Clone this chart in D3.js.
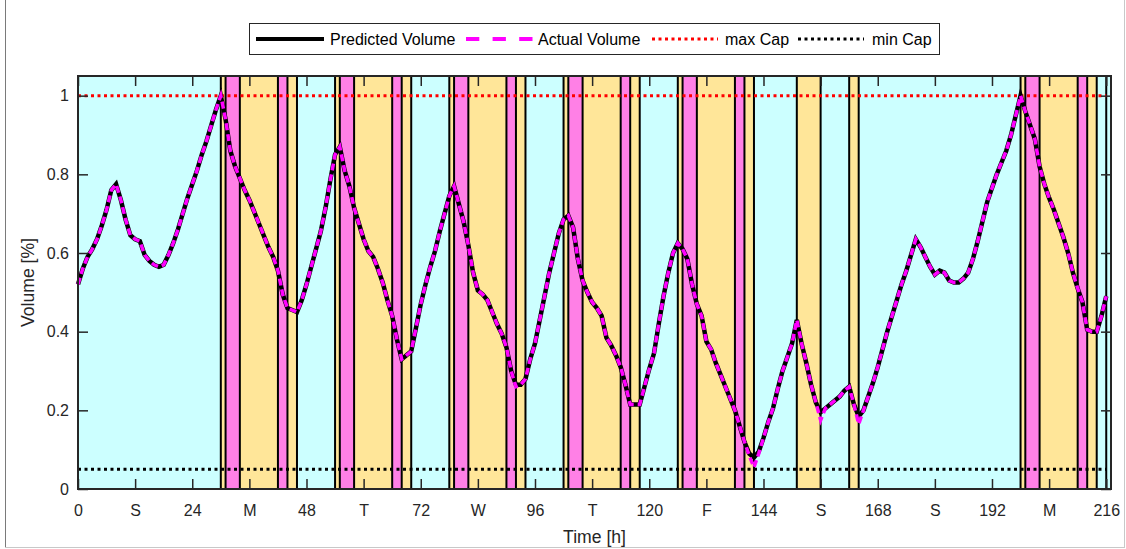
<!DOCTYPE html>
<html>
<head>
<meta charset="utf-8">
<script src="https://cdn.jsdelivr.net/npm/d3@7"></script>
<style>
  html, body { margin: 0; padding: 0; background: #ffffff; }
  svg { display: block; font-family: "Liberation Sans", Arial, Helvetica, sans-serif; }
</style>
</head>
<body>
<svg id="chart" width="1126" height="549"></svg>
<script>
// Hourly storage volume (fraction of capacity), hour 0 .. 216
const actualVolume = [
  0.52, 0.56, 0.59, 0.61, 0.635, 0.67, 0.71, 0.76, 0.775, 0.735,
  0.685, 0.645, 0.635, 0.63, 0.595, 0.58, 0.57, 0.565, 0.57, 0.595,
  0.625, 0.66, 0.70, 0.74, 0.775, 0.81, 0.85, 0.885, 0.925, 0.965,
  1.0, 0.94, 0.86, 0.82, 0.79, 0.76, 0.735, 0.705, 0.675, 0.645,
  0.615, 0.59, 0.555, 0.495, 0.46, 0.455, 0.45, 0.48, 0.52, 0.565,
  0.61, 0.655, 0.715, 0.785, 0.85, 0.87, 0.81, 0.77, 0.715, 0.675,
  0.635, 0.605, 0.59, 0.56, 0.525, 0.48, 0.44, 0.38, 0.33, 0.34,
  0.35, 0.41, 0.47, 0.52, 0.565, 0.605, 0.655, 0.70, 0.745, 0.77,
  0.725, 0.68, 0.62, 0.55, 0.505, 0.495, 0.48, 0.45, 0.42, 0.395,
  0.36, 0.30, 0.26, 0.265, 0.28, 0.33, 0.37, 0.43, 0.49, 0.55,
  0.60, 0.65, 0.685, 0.695, 0.665, 0.585, 0.53, 0.50, 0.475, 0.46,
  0.44, 0.385, 0.365, 0.34, 0.31, 0.265, 0.215, 0.215, 0.215, 0.26,
  0.305, 0.345, 0.42, 0.49, 0.55, 0.60, 0.625, 0.61, 0.585, 0.52,
  0.47, 0.44, 0.375, 0.355, 0.32, 0.29, 0.26, 0.23, 0.20, 0.16,
  0.12, 0.085, 0.055, 0.09, 0.13, 0.17, 0.205, 0.255, 0.30, 0.335,
  0.37, 0.43, 0.37, 0.32, 0.265, 0.22, 0.175, 0.205, 0.215, 0.225,
  0.235, 0.25, 0.26, 0.215, 0.165, 0.20, 0.235, 0.27, 0.31, 0.355,
  0.40, 0.44, 0.48, 0.52, 0.555, 0.595, 0.635, 0.615, 0.59, 0.565,
  0.545, 0.555, 0.55, 0.53, 0.525, 0.525, 0.535, 0.55, 0.585, 0.63,
  0.68, 0.73, 0.765, 0.80, 0.83, 0.86, 0.90, 0.95, 1.0, 0.96,
  0.925, 0.89, 0.82, 0.775, 0.74, 0.71, 0.675, 0.64, 0.60, 0.55,
  0.51, 0.475, 0.405, 0.40, 0.40, 0.44, 0.49
];

const predictedVolume = [
  0.52, 0.56, 0.59, 0.61, 0.635, 0.67, 0.71, 0.76, 0.775, 0.735,
  0.685, 0.645, 0.635, 0.63, 0.595, 0.58, 0.57, 0.565, 0.57, 0.595,
  0.625, 0.66, 0.70, 0.74, 0.775, 0.81, 0.85, 0.885, 0.925, 0.965,
  1.0, 0.94, 0.86, 0.82, 0.79, 0.76, 0.735, 0.705, 0.675, 0.645,
  0.615, 0.59, 0.555, 0.495, 0.46, 0.455, 0.45, 0.48, 0.52, 0.565,
  0.61, 0.655, 0.715, 0.785, 0.85, 0.87, 0.81, 0.77, 0.715, 0.675,
  0.635, 0.605, 0.59, 0.56, 0.525, 0.48, 0.44, 0.38, 0.33, 0.34,
  0.35, 0.41, 0.47, 0.52, 0.565, 0.605, 0.655, 0.70, 0.745, 0.77,
  0.725, 0.68, 0.62, 0.55, 0.505, 0.495, 0.48, 0.45, 0.42, 0.395,
  0.36, 0.30, 0.265, 0.265, 0.28, 0.33, 0.37, 0.43, 0.49, 0.55,
  0.60, 0.65, 0.685, 0.695, 0.665, 0.585, 0.53, 0.50, 0.475, 0.46,
  0.44, 0.385, 0.365, 0.34, 0.31, 0.265, 0.215, 0.215, 0.215, 0.26,
  0.305, 0.345, 0.42, 0.49, 0.55, 0.60, 0.625, 0.61, 0.585, 0.52,
  0.47, 0.44, 0.375, 0.355, 0.32, 0.29, 0.26, 0.23, 0.20, 0.16,
  0.12, 0.09, 0.08, 0.095, 0.13, 0.17, 0.205, 0.255, 0.30, 0.335,
  0.37, 0.43, 0.37, 0.32, 0.265, 0.22, 0.195, 0.205, 0.215, 0.225,
  0.235, 0.25, 0.26, 0.215, 0.185, 0.20, 0.235, 0.27, 0.31, 0.355,
  0.40, 0.44, 0.48, 0.52, 0.555, 0.595, 0.635, 0.615, 0.59, 0.565,
  0.545, 0.555, 0.55, 0.53, 0.525, 0.525, 0.535, 0.55, 0.585, 0.63,
  0.68, 0.73, 0.765, 0.80, 0.83, 0.86, 0.90, 0.95, 1.0, 0.96,
  0.925, 0.89, 0.82, 0.775, 0.74, 0.71, 0.675, 0.64, 0.60, 0.55,
  0.51, 0.475, 0.405, 0.40, 0.40, 0.44, 0.49
];

// Tariff periods: boundaries in hours and the tariff of each interval
const tariffBreaks = [0, 30, 31, 34, 42, 44, 46, 54, 55, 58, 66, 68, 70, 78, 79, 82, 90, 92, 94,
  102, 103, 106, 114, 116, 118, 126, 127, 130, 138, 140, 142, 151, 156, 162, 164,
  198, 199, 202, 210, 212, 214, 216, 217];
const tariffLevels = ["off", "mid", "peak", "mid", "peak", "mid", "off", "mid", "peak", "mid", "peak", "mid",
  "off", "mid", "peak", "mid", "peak", "mid", "off", "mid", "peak", "mid", "peak", "mid",
  "off", "mid", "peak", "mid", "peak", "mid", "off", "mid", "off", "mid", "off",
  "mid", "peak", "mid", "peak", "mid", "off", "off"];

const maxCap = 1.0;
const minCap = 0.05;

const xTickValues = [0, 12, 24, 36, 48, 60, 72, 84, 96, 108, 120, 132, 144, 156, 168, 180, 192, 204, 216];
const xTickLabels = ["0", "S", "24", "M", "48", "T", "72", "W", "96", "T", "120", "F", "144", "S", "168", "S", "192", "M", "216"];
const yTickValues = [0, 0.2, 0.4, 0.6, 0.8, 1];

const legendItems = ["Predicted Volume", "Actual Volume", "max Cap", "min Cap"];

// ---- layout ----
const svg = d3.select("#chart");
const plot = { left: 78, right: 1111, top: 76, bottom: 489 };
const axisColor = "#262626";
const tariffColor = { off: "#ccffff", mid: "#ffe699", peak: "#ff80e6" };

const x = d3.scaleLinear().domain([0, 217]).range([plot.left, plot.right]);
const y = d3.scaleLinear().domain([0, 1.05]).range([plot.bottom, plot.top]);

// figure frame
svg.append("rect").attr("x", 0).attr("y", 0).attr("width", 1126).attr("height", 549).attr("fill", "#ffffff");
svg.append("line").attr("x1", 5.5).attr("x2", 5.5).attr("y1", 0).attr("y2", 548)
  .attr("stroke", "#7a7a7a").attr("stroke-width", 1);
svg.append("line").attr("x1", 5).attr("x2", 1125).attr("y1", 547.5).attr("y2", 547.5)
  .attr("stroke", "#c8c8c8").attr("stroke-width", 1);
svg.append("line").attr("x1", 1124.5).attr("x2", 1124.5).attr("y1", 0).attr("y2", 548)
  .attr("stroke", "#c8c8c8").attr("stroke-width", 1);

// tariff bands
const intervals = tariffLevels.map((lvl, i) => ({ a: tariffBreaks[i], b: tariffBreaks[i + 1], lvl }));
svg.append("g").selectAll("rect").data(intervals).join("rect")
  .attr("x", d => x(d.a)).attr("width", d => x(d.b) - x(d.a))
  .attr("y", plot.top).attr("height", plot.bottom - plot.top)
  .attr("fill", d => tariffColor[d.lvl]);

svg.append("g").selectAll("line").data(tariffBreaks.slice(1, -1)).join("line")
  .attr("x1", d => x(d)).attr("x2", d => x(d))
  .attr("y1", plot.top).attr("y2", plot.bottom)
  .attr("stroke", "#000").attr("stroke-width", 2);

// capacity limits
svg.append("line").attr("x1", x(0)).attr("x2", x(216)).attr("y1", y(maxCap)).attr("y2", y(maxCap))
  .attr("stroke", "#ff0000").attr("stroke-width", 3).attr("stroke-dasharray", "3,3.5");
svg.append("line").attr("x1", x(0)).attr("x2", x(216)).attr("y1", y(minCap)).attr("y2", y(minCap))
  .attr("stroke", "#000000").attr("stroke-width", 3).attr("stroke-dasharray", "3,3.5");

// volume curves
const volLine = d3.line().x((d, i) => x(i)).y(d => y(d));
svg.append("path").datum(predictedVolume).attr("d", volLine)
  .attr("fill", "none").attr("stroke", "#000").attr("stroke-width", 4.5)
  .attr("stroke-linejoin", "miter");
svg.append("path").datum(actualVolume).attr("d", volLine)
  .attr("fill", "none").attr("stroke", "#ff00ff").attr("stroke-width", 3.5)
  .attr("stroke-dasharray", "7,4");

// axes (ticks pointing inward, mirrored on top and right)
const tickStyle = g => {
  g.select(".domain").remove();
  g.selectAll(".tick line").attr("stroke", axisColor).attr("stroke-width", 1.5);
  g.selectAll(".tick text").attr("fill", axisColor).attr("font-size", 16)
    .attr("font-family", "\"Liberation Sans\", Arial, Helvetica, sans-serif");
};
svg.append("g").attr("transform", `translate(0,${plot.bottom})`)
  .call(d3.axisBottom(x).tickValues(xTickValues).tickFormat((d, i) => xTickLabels[i])
    .tickSizeInner(-10).tickSizeOuter(0).tickPadding(16))
  .call(tickStyle);
svg.append("g").attr("transform", `translate(0,${plot.top})`)
  .call(d3.axisTop(x).tickValues(xTickValues).tickFormat("").tickSizeInner(-10).tickSizeOuter(0))
  .call(tickStyle);
svg.append("g").attr("transform", `translate(${plot.left},0)`)
  .call(d3.axisLeft(y).tickValues(yTickValues).tickFormat(d3.format("~g"))
    .tickSizeInner(-10).tickSizeOuter(0).tickPadding(9))
  .call(tickStyle);
svg.append("g").attr("transform", `translate(${plot.right},0)`)
  .call(d3.axisRight(y).tickValues(yTickValues).tickFormat("").tickSizeInner(-10).tickSizeOuter(0))
  .call(tickStyle);

svg.append("rect").attr("x", plot.left).attr("y", plot.top)
  .attr("width", plot.right - plot.left).attr("height", plot.bottom - plot.top)
  .attr("fill", "none").attr("stroke", axisColor).attr("stroke-width", 2);

// axis titles
svg.append("text").attr("x", (plot.left + plot.right) / 2).attr("y", 543)
  .attr("text-anchor", "middle").attr("font-size", 17.6).attr("fill", axisColor).text("Time [h]");
svg.append("text").attr("transform", `translate(34,${(plot.top + plot.bottom) / 2}) rotate(-90)`)
  .attr("text-anchor", "middle").attr("font-size", 17.6).attr("fill", axisColor).text("Volume [%]");

// legend
const lg = svg.append("g");
lg.append("rect").attr("x", 249.5).attr("y", 23.5).attr("width", 690).attr("height", 31)
  .attr("fill", "#fff").attr("stroke", axisColor).attr("stroke-width", 1);
const legendLayout = [
  { x1: 256, x2: 324, tx: 330, stroke: "#000", dash: null },
  { x1: 466, x2: 534, tx: 538, stroke: "#ff00ff", dash: "13.3,13.3" },
  { x1: 652, x2: 718, tx: 725, stroke: "#ff0000", dash: "3,3.5" },
  { x1: 798, x2: 864, tx: 872, stroke: "#000", dash: "3,3.5" }
];
legendLayout.forEach((L, i) => {
  const ln = lg.append("line").attr("x1", L.x1).attr("x2", L.x2).attr("y1", 39).attr("y2", 39)
    .attr("stroke", L.stroke).attr("stroke-width", i < 2 ? 4 : 3);
  if (L.dash) ln.attr("stroke-dasharray", L.dash);
  lg.append("text").attr("x", L.tx).attr("y", 44.5).attr("font-size", 16).attr("fill", "#000")
    .text(legendItems[i]);
});
</script>
</body>
</html>
